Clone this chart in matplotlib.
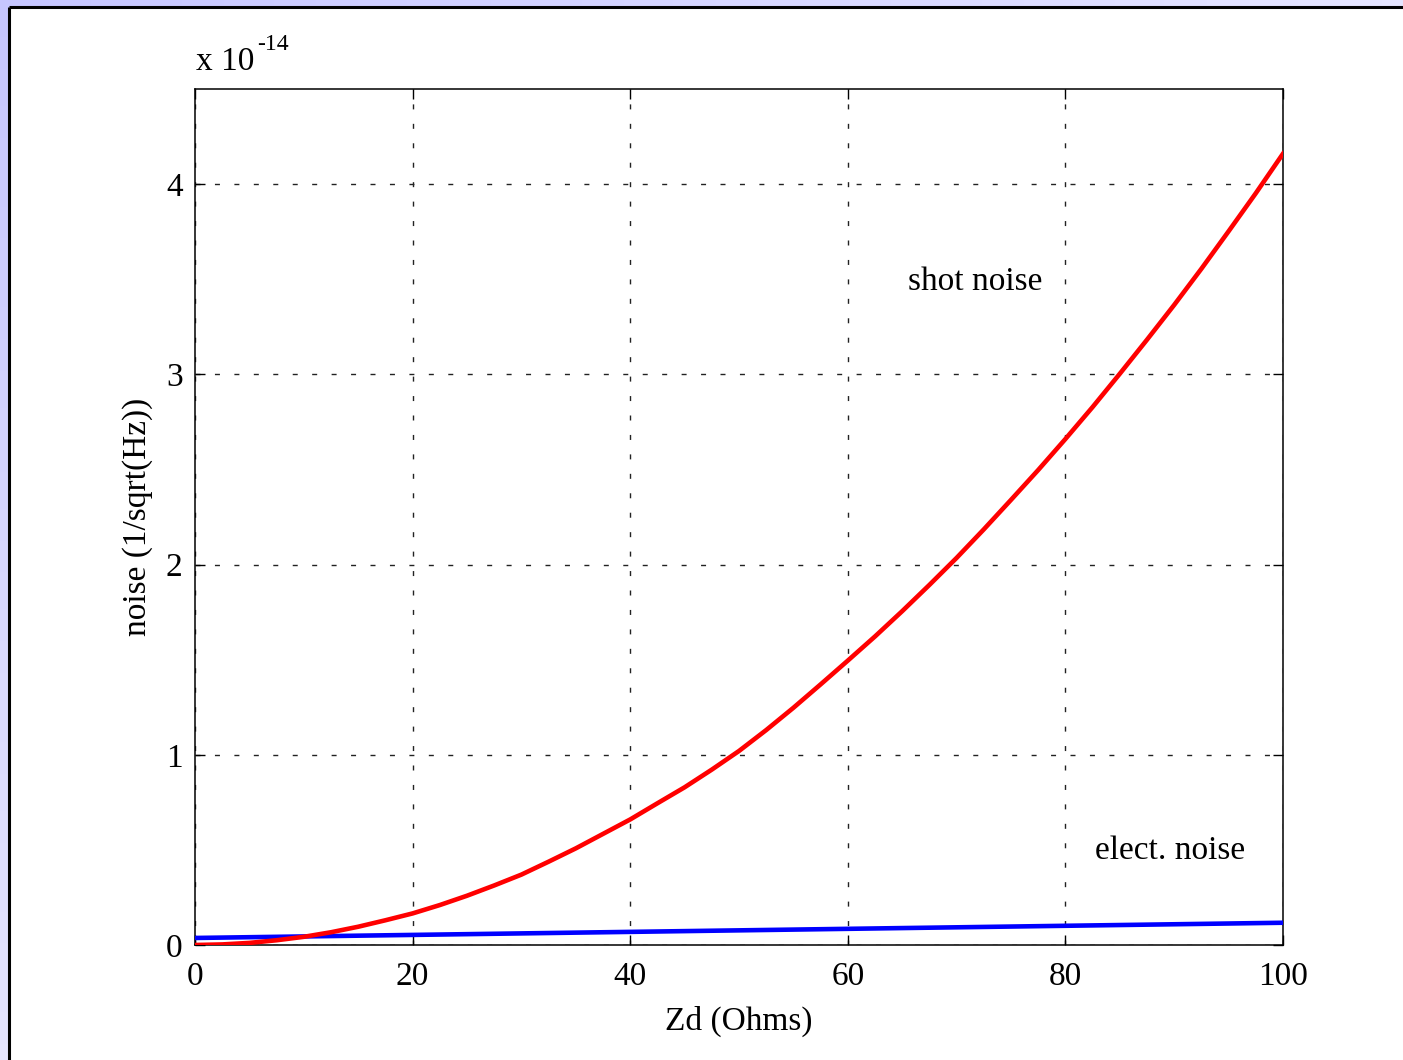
import numpy as np
import matplotlib
matplotlib.use("Agg")
import matplotlib.pyplot as plt
from matplotlib.patches import Rectangle

# ---- data (values in units of 1e-14) ----
zd = [0, 2.5, 5, 7.5, 10, 12.5, 15, 17.5, 20, 22.5, 25, 27.5, 30, 32.5, 35, 37.5, 40,
      42.5, 45, 47.5, 50, 52.5, 55, 57.5, 60, 62.5, 65, 67.5, 70, 72.5, 75, 77.5, 80,
      82.5, 85, 87.5, 90, 92.5, 95, 97.5, 100]
shot_noise = [0.000, 0.003, 0.011, 0.025, 0.043, 0.067, 0.096, 0.130, 0.166, 0.210, 0.259,
              0.313, 0.370, 0.438, 0.508, 0.584, 0.660, 0.745, 0.829, 0.922, 1.020, 1.130,
              1.247, 1.370, 1.495, 1.622, 1.755, 1.893, 2.035, 2.185, 2.340, 2.497, 2.660,
              2.828, 3.003, 3.182, 3.365, 3.555, 3.752, 3.952, 4.160]
elect_noise = [0.037, 0.039, 0.041, 0.043, 0.045, 0.047, 0.049, 0.051, 0.053, 0.055, 0.057,
               0.059, 0.061, 0.063, 0.065, 0.067, 0.069, 0.071, 0.073, 0.075, 0.077, 0.079,
               0.081, 0.083, 0.085, 0.087, 0.089, 0.091, 0.093, 0.095, 0.097, 0.099, 0.101,
               0.103, 0.105, 0.107, 0.109, 0.111, 0.113, 0.115, 0.117]
xticks = [0, 20, 40, 60, 80, 100]
yticks = [0, 1, 2, 3, 4]

plt.rcParams['font.family'] = ['Liberation Serif', 'DejaVu Serif']
FS = 24

W, H = 1403, 1060
fig = plt.figure(figsize=(W / 100, H / 100), dpi=100)

# background: lavender gradient fading to white, white panel with black frame
bg = fig.add_axes([0, 0, 1, 1])
bg.set_axis_off()
gx = np.linspace(0, 1, 200)
gy = np.linspace(0, 1, 200)
GX, GY = np.meshgrid(gx, gy)
t = np.clip(1 - 0.55 * (GX + GY), 0, 1)
img = np.zeros((200, 200, 3))
img[..., 0] = 1 - t * (1 - 198 / 255)
img[..., 1] = 1 - t * (1 - 198 / 255)
img[..., 2] = 1.0
bg.imshow(img, extent=[0, W, H, 0], aspect='auto', origin='upper')
bg.add_patch(Rectangle((9, 7), W, H, facecolor='white', edgecolor='none'))
bg.plot([9, W], [7, 7], color='black', lw=2.2, solid_capstyle='butt')
bg.plot([9, 9], [7, H], color='black', lw=2.2, solid_capstyle='butt')
bg.set_xlim(0, W)
bg.set_ylim(H, 0)

# offset label "x 10^-14"
bg.text(196, 70, 'x 10', fontsize=FS, ha='left', va='baseline')
bg.text(257, 50, '-14', fontsize=17, ha='left', va='baseline')

ax = fig.add_axes([195 / W, 1 - 945 / H, (1283 - 195) / W, (945 - 89) / H])
ax.plot(zd, elect_noise, color='#0000ff', lw=3.3, zorder=3)
ax.plot(zd, shot_noise, color='#ff0000', lw=3.3, zorder=4)

ax.set_xlim(0, 100)
ax.set_ylim(0, 4.5)
ax.set_xticks(xticks)
ax.set_yticks(yticks)
ax.tick_params(direction='in', length=7, width=1, labelsize=FS, top=True, right=True,
               colors='black')
ax.tick_params(axis='x', pad=12)
ax.tick_params(axis='y', pad=9)
ax.grid(True, color='#222222', linestyle=(0, (3.6, 10.4)), linewidth=1.0)
for s in ax.spines.values():
    s.set_linewidth(1.1)

ax.set_xlabel('Zd (Ohms)', fontsize=FS, labelpad=10)
ax.set_ylabel('noise (1/sqrt(Hz))', fontsize=FS, labelpad=9)

ax.text(71.7, 3.445, 'shot noise', fontsize=FS, ha='center', va='baseline')
ax.text(89.6, 0.452, 'elect. noise', fontsize=FS, ha='center', va='baseline')

fig.savefig('out.png', dpi=100)
